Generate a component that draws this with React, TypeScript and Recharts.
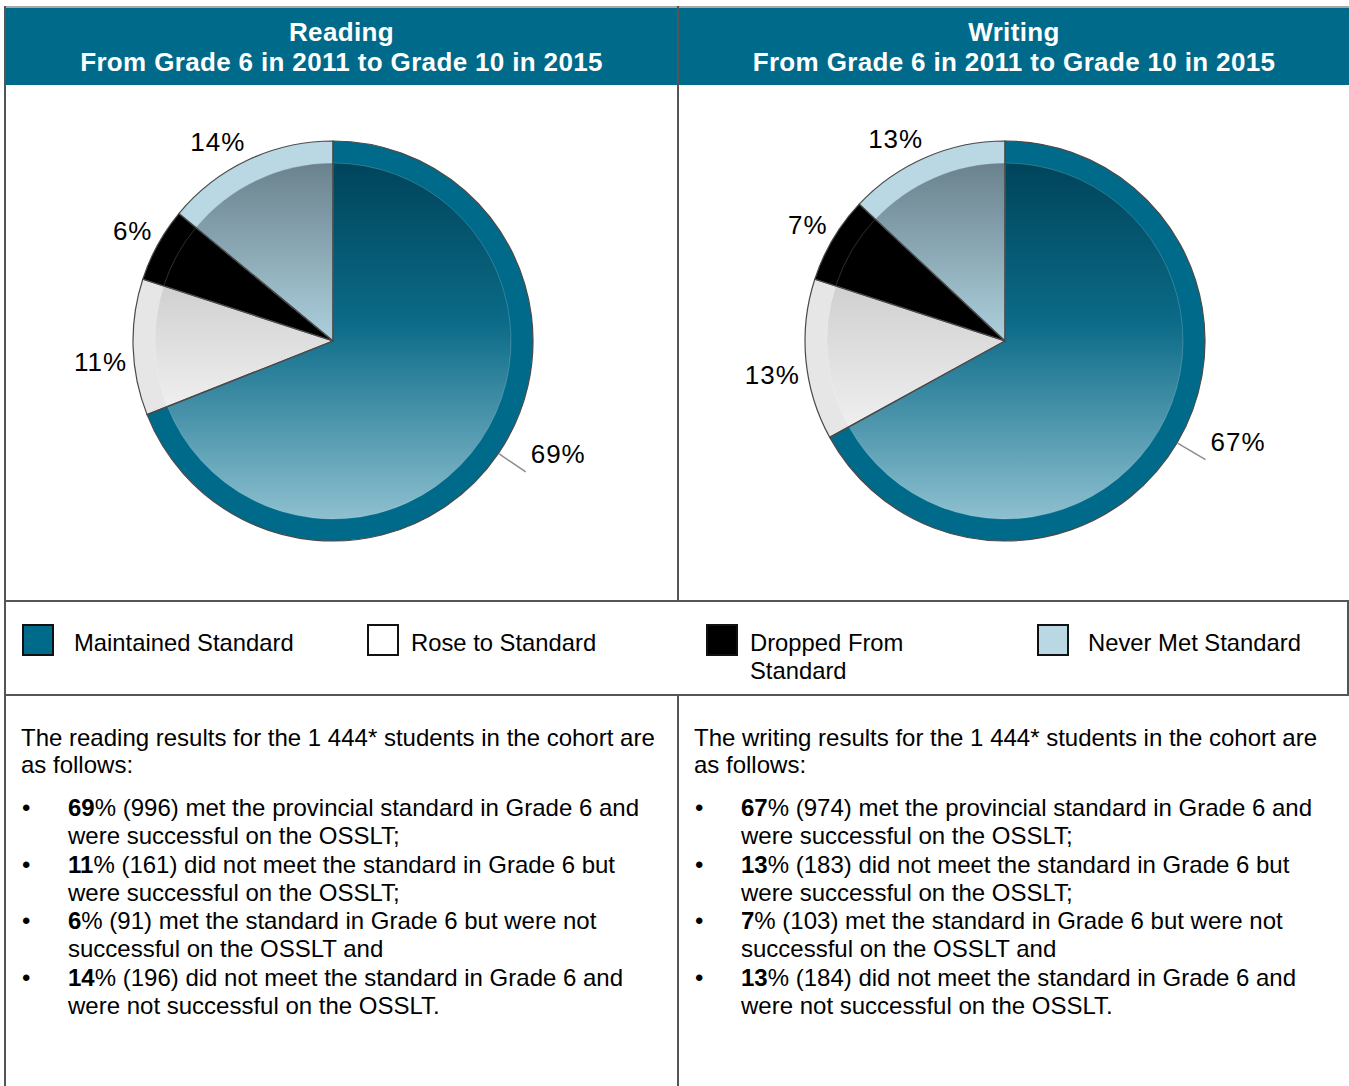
import { Cell, Pie, PieChart } from 'recharts'

const FONT = '"Liberation Sans", Arial, Helvetica, sans-serif'

// categories in clockwise order from 12 o'clock
const categories = ['Maintained Standard', 'Rose to Standard', 'Dropped From Standard', 'Never Met Standard']
const legendLines = [['Maintained Standard'], ['Rose to Standard'], ['Dropped From', 'Standard'], ['Never Met Standard']]

const readingPct = [69, 11, 6, 14]
const readingCount = [996, 161, 91, 196]
const writingPct = [67, 13, 7, 13]
const writingCount = [974, 183, 103, 184]

const outcomeLines = [
  ['met the provincial standard in Grade 6 and', 'were successful on the OSSLT;'],
  ['did not meet the standard in Grade 6 but', 'were successful on the OSSLT;'],
  ['met the standard in Grade 6 but were not', 'successful on the OSSLT and'],
  ['did not meet the standard in Grade 6 and', 'were not successful on the OSSLT.'],
]

const TEAL = '#006a8a'
const ringColors = [TEAL, '#e6e6e6', '#000000', '#b9d8e4']
const swatchColors = [TEAL, '#ffffff', '#000000', '#b9d8e4']
const gradientStops: [number, string][][] = [
  [[0, '#00445a'], [0.45, '#0b6b88'], [1, '#8ec0d0']],
  [[0, '#d0d0d0'], [1, '#efefef']],
  [[0, '#000000'], [1, '#000000']],
  [[0, '#6a828e'], [1, '#acd0dc']],
]

const RAD = Math.PI / 180

function renderLabel(props: any) {
  const { cx, cy, midAngle, value, index } = props
  const cos = Math.cos(-midAngle * RAD)
  const sin = Math.sin(-midAngle * RAD)
  const style = { fontFamily: FONT, fontSize: 26, fill: '#000', letterSpacing: 1 }
  if (index === 0) {
    // big slice gets a leader line, text to the right of it
    const x1 = cx + 201 * cos
    const y1 = cy + 201 * sin
    const x2 = cx + 233 * cos
    const y2 = cy + 233 * sin
    return (
      <g key={`lbl-${index}`}>
        <line x1={x1} y1={y1} x2={x2} y2={y2} stroke='#8c8c8c' strokeWidth={1.5} />
        <text x={x2 + 5} y={y2 - 9} textAnchor='start' style={style}>{`${value}%`}</text>
      </g>
    )
  }
  const px = cx + 206 * cos
  const py = cy + 210 * sin
  return (
    <text
      key={`lbl-${index}`}
      x={px}
      y={sin < 0 ? py : py + 23}
      textAnchor={cos < 0 ? 'end' : 'start'}
      style={style}
    >
      {`${value}%`}
    </text>
  )
}

function PiePanel({ id, values, left, width, cx }: { id: string; values: number[]; left: number; width: number; cx: number }) {
  const data = categories.map((name, i) => ({ name, value: values[i] }))
  const common = {
    data,
    dataKey: 'value',
    cx,
    cy: 251,
    startAngle: 90,
    endAngle: -270,
    isAnimationActive: false,
  }
  return (
    <div style={{ position: 'absolute', left, top: 85, width, height: 516 }}>
      <PieChart width={width} height={516}>
        <defs>
          {gradientStops.map((stops, i) => (
            <linearGradient key={i} id={`${id}-g${i}`} x1='0' y1='0' x2='0' y2='1'>
              {stops.map(([o, c], j) => (
                <stop key={j} offset={o} stopColor={c} />
              ))}
            </linearGradient>
          ))}
        </defs>
        <Pie {...common} innerRadius={177} outerRadius={200} stroke='none'>
          {data.map((d, i) => (
            <Cell key={d.name} fill={ringColors[i]} />
          ))}
        </Pie>
        <Pie {...common} innerRadius={0} outerRadius={178} stroke='rgba(255,255,255,0.18)' strokeWidth={1}>
          {data.map((d, i) => (
            <Cell key={d.name} fill={`url(#${id}-g${i})`} />
          ))}
        </Pie>
        <Pie {...common} innerRadius={0} outerRadius={200} stroke='#4a4a4a' strokeWidth={1.2} label={renderLabel} labelLine={false}>
          {data.map((d) => (
            <Cell key={d.name} fill='none' />
          ))}
        </Pie>
      </PieChart>
    </div>
  )
}

function Header({ left, width, subject }: { left: number; width: number; subject: string }) {
  return (
    <div
      style={{
        position: 'absolute', left, top: 8, width, height: 77, background: TEAL, color: '#fff',
        fontFamily: FONT, fontWeight: 'bold', fontSize: 26, letterSpacing: 0.35, lineHeight: '30px', textAlign: 'center',
      }}
    >
      <div style={{ paddingTop: 9 }}>{subject}</div>
      <div>From Grade 6 in 2011 to Grade 10 in 2015</div>
    </div>
  )
}

function Summary({ left, subject, pct, counts }: { left: number; subject: string; pct: number[]; counts: number[] }) {
  return (
    <div style={{ position: 'absolute', left, top: 724, width: 650, fontFamily: FONT, fontSize: 24, color: '#000' }}>
      <div style={{ lineHeight: '27px' }}>
        The {subject} results for the 1 444* students in the cohort are
        <br />
        as follows:
      </div>
      <div style={{ position: 'absolute', top: 70, left: 0, width: 650, lineHeight: '28.3px' }}>
        {outcomeLines.map((lines, i) => (
          <div key={i} style={{ position: 'relative', paddingLeft: 47 }}>
            <span style={{ position: 'absolute', left: 1 }}>•</span>
            <b>{pct[i]}</b>% ({counts[i]}) {lines[0]}
            <br />
            {lines[1]}
          </div>
        ))}
      </div>
    </div>
  )
}

const swatchX = [22, 367, 706, 1037]
const legendTextX = [74, 411, 750, 1088]

function Legend() {
  return (
    <>
      {categories.map((c, i) => (
        <div key={c}>
          <div
            style={{
              position: 'absolute', left: swatchX[i], top: 624, width: 28, height: 28,
              background: swatchColors[i], border: '2px solid #111',
            }}
          />
          <div
            style={{
              position: 'absolute', left: legendTextX[i], top: 629, fontFamily: FONT, fontSize: 23.8,
              lineHeight: '28px', whiteSpace: 'nowrap', color: '#000',
            }}
          >
            {legendLines[i].map((l) => (
              <div key={l}>{l}</div>
            ))}
          </div>
        </div>
      ))}
    </>
  )
}

const line = (left: number, top: number, width: number, height: number, bg = '#555') => (
  <div style={{ position: 'absolute', left, top, width, height, background: bg }} />
)

export default function App() {
  return (
    <div style={{ position: 'absolute', left: 0, top: 0, width: 1349, height: 1086, background: '#fff', overflow: 'hidden' }}>
      <Header left={5} width={673} subject='Reading' />
      <Header left={679} width={670} subject='Writing' />
      <PiePanel id='rd' values={readingPct} left={5} width={673} cx={323} />
      <PiePanel id='wr' values={writingPct} left={679} width={670} cx={321} />
      <Legend />
      <Summary left={21} subject='reading' pct={readingPct} counts={readingCount} />
      <Summary left={694} subject='writing' pct={writingPct} counts={writingCount} />
      {line(5, 6, 1344, 2, '#a8a8a8')}
      {line(4, 6, 2, 1080)}
      {line(677, 6, 2, 595)}
      {line(677, 695, 2, 391)}
      {line(4, 600, 1345, 2)}
      {line(4, 694, 1345, 2)}
      {line(1347, 600, 2, 96)}
    </div>
  )
}
